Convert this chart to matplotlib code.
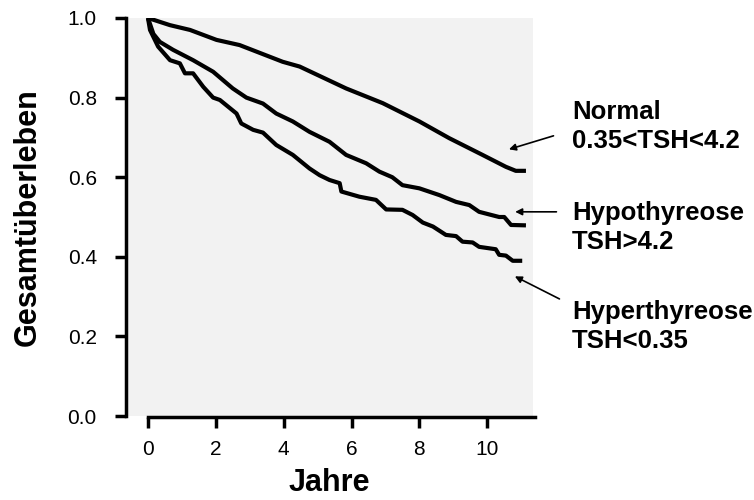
import matplotlib
matplotlib.use("Agg")
import matplotlib.pyplot as plt

# Kaplan-Meier curves (years, survival)
normal_x = [0, 0.65, 1.24, 2.02, 2.7, 3.97, 4.47, 5.84, 6.92, 8.0, 8.88, 9.86, 10.55, 10.84, 11.14]
normal_y = [1.0, 0.982, 0.97, 0.945, 0.932, 0.89, 0.878, 0.823, 0.786, 0.74, 0.698, 0.656, 0.626, 0.616, 0.616]

hypo_x = [0, 0.16, 0.35, 0.74, 1.33, 1.92, 2.5, 2.9, 3.39, 3.78, 4.27, 4.76, 5.35, 5.84, 6.43,
          6.82, 7.2, 7.5, 8.0, 8.59, 9.08, 9.47, 9.76, 10.35, 10.5, 10.7, 11.14]
hypo_y = [1.0, 0.96, 0.94, 0.92, 0.894, 0.865, 0.823, 0.80, 0.785, 0.76, 0.74, 0.714, 0.689, 0.656, 0.635,
          0.614, 0.60, 0.58, 0.572, 0.555, 0.538, 0.53, 0.513, 0.50, 0.50, 0.48, 0.479]

hyper_x = [0, 0.06, 0.3, 0.65, 0.94, 1.09, 1.33, 1.63, 1.92, 2.12, 2.61, 2.75, 3.1, 3.39, 3.78, 4.27,
           4.76, 5.06, 5.35, 5.65, 5.7, 6.23, 6.72, 7.02, 7.5, 7.8, 8.1, 8.4, 8.78, 9.08, 9.27, 9.57,
           9.76, 10.25, 10.35, 10.55, 10.75, 11.03]
hyper_y = [1.0, 0.97, 0.928, 0.894, 0.886, 0.861, 0.861, 0.827, 0.80, 0.794, 0.76, 0.735, 0.719, 0.712,
           0.681, 0.656, 0.622, 0.605, 0.593, 0.585, 0.564, 0.551, 0.543, 0.519, 0.518, 0.505, 0.486,
           0.476, 0.455, 0.452, 0.438, 0.436, 0.425, 0.419, 0.405, 0.403, 0.39, 0.39]

labels = ["Normal\n0.35<TSH<4.2", "Hypothyreose\nTSH>4.2", "Hyperthyreose\nTSH<0.35"]
arrow_heads = [(10.56, 0.668), (10.74, 0.513), (10.74, 0.354)]
arrow_tails = [(12.03, 0.706), (12.12, 0.513), (12.2, 0.291)]
label_y = [0.728, 0.474, 0.225]

plt.rcParams['font.family'] = ['Liberation Sans', 'DejaVu Sans']

fig = plt.figure(figsize=(7.54, 5.0), dpi=100)
ax = fig.add_axes([0.167, 0.168, 0.540, 0.796])
ax.set_facecolor('#f2f2f2')

for xs, ys in [(normal_x, normal_y), (hypo_x, hypo_y), (hyper_x, hyper_y)]:
    ax.plot(xs, ys, color='black', lw=3, solid_capstyle='butt')

ax.set_xlim(-0.65, 11.35)
ax.set_ylim(0, 1.0)
ax.set_xticks([0, 2, 4, 6, 8, 10])
ax.set_yticks([0, 0.2, 0.4, 0.6, 0.8, 1.0])
ax.set_yticklabels(['0.0', '0.2', '0.4', '0.6', '0.8', '1.0'])

for s in ['top', 'right']:
    ax.spines[s].set_visible(False)
ax.spines['left'].set_linewidth(2.5)
ax.spines['bottom'].set_linewidth(2.5)
ax.spines['bottom'].set_bounds(0, 11.4)
ax.spines['bottom'].set_position(('outward', 1))
ax.tick_params(axis='both', width=2.5, length=8, labelsize=15)
ax.tick_params(axis='y', pad=13)
ax.tick_params(axis='x', pad=8)

ax.set_xlabel('Jahre', fontsize=22, fontweight='bold', labelpad=7)
ax.set_ylabel('Gesamtüberleben', fontsize=22, fontweight='bold', labelpad=18)

for lab, head, tail, ty in zip(labels, arrow_heads, arrow_tails, label_y):
    ax.annotate('', xy=head, xytext=tail, annotation_clip=False,
                arrowprops=dict(arrowstyle='-|>', color='black', lw=1.2, mutation_scale=10))
    ax.text(12.5, ty, lab, fontsize=18.5, fontweight='bold', va='center', ha='left',
            linespacing=1.25, clip_on=False)

fig.savefig('out.png', dpi=100)
